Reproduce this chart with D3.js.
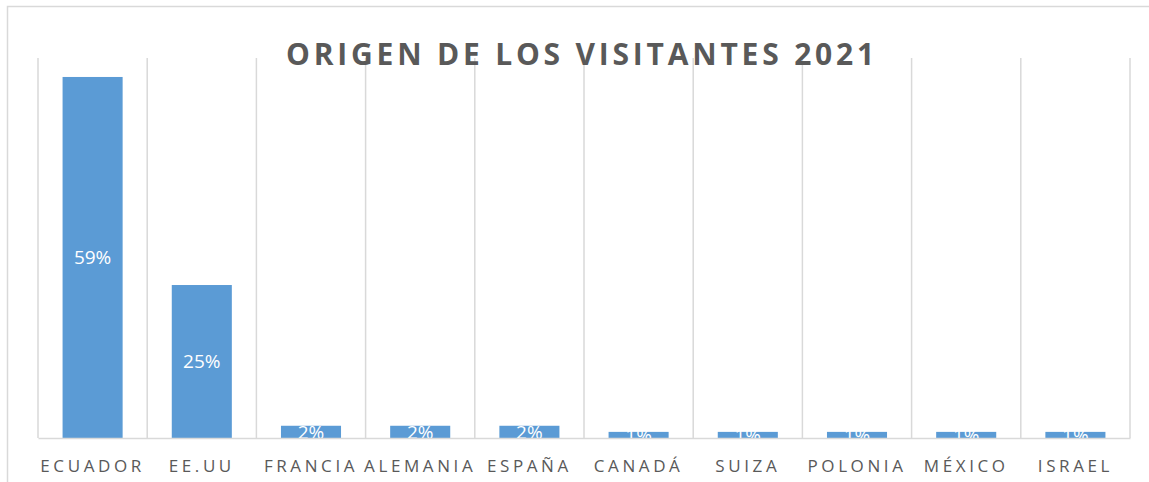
<!DOCTYPE html>
<html>
<head>
<meta charset="utf-8">
<script src="https://cdn.jsdelivr.net/npm/d3@7"></script>
<style>
  body { margin: 0; background: #fff; }
  svg { display: block; font-family: "Open Sans", "Noto Sans", sans-serif; }
</style>
</head>
<body>
<svg width="1149" height="482"></svg>
<script>
// Chart data
const countries = ["ECUADOR", "EE.UU", "FRANCIA", "ALEMANIA", "ESPAÑA", "CANADÁ", "SUIZA", "POLONIA", "MÉXICO", "ISRAEL"];
const shares = [0.59, 0.25, 0.02, 0.02, 0.02, 0.01, 0.01, 0.01, 0.01, 0.01];
const labels = ["59%", "25%", "2%", "2%", "2%", "1%", "1%", "1%", "1%", "1%"];
const title = "ORIGEN DE LOS VISITANTES 2021";

const svg = d3.select("svg");
const plot = {left: 38, right: 1130, top: 58, bottom: 438};

// chart frame
svg.append("rect")
    .attr("x", 7.5).attr("y", 6.5)
    .attr("width", 1160).attr("height", 500)
    .attr("fill", "none").attr("stroke", "#d9d9d9").attr("stroke-width", 1.5);

const x = d3.scaleBand()
    .domain(countries)
    .range([plot.left, plot.right])
    .paddingInner(0.45).paddingOuter(0.225);

const y = d3.scaleLinear()
    .domain([0, 0.621])
    .range([plot.bottom, plot.top]);

// category gridlines (between bands)
const step = x.step();
const edges = d3.range(countries.length + 1).map(i => plot.left + i * step);
svg.selectAll(".grid").data(edges).enter().append("line")
    .attr("class", "grid")
    .attr("x1", d => d).attr("x2", d => d)
    .attr("y1", plot.top).attr("y2", plot.bottom)
    .attr("stroke", "#d9d9d9").attr("stroke-width", 1.5);

// bars
svg.selectAll(".bar").data(shares).enter().append("rect")
    .attr("class", "bar")
    .attr("x", (d, i) => x(countries[i]))
    .attr("y", d => y(d))
    .attr("width", x.bandwidth())
    .attr("height", d => y(0) - y(d))
    .attr("fill", "#5b9bd5");

// data labels centred in bars
svg.selectAll(".lbl").data(shares).enter().append("text")
    .attr("class", "lbl")
    .attr("x", (d, i) => x(countries[i]) + x.bandwidth() / 2)
    .attr("y", d => (y(d) + y(0)) / 2)
    .attr("dy", "0.35em")
    .attr("text-anchor", "middle")
    .attr("fill", "#fff")
    .attr("font-size", 19)
    .text((d, i) => labels[i]);

// baseline axis
const axis = svg.append("g")
    .attr("transform", `translate(0,${plot.bottom})`)
    .call(d3.axisBottom(x).tickSize(0).tickPadding(22));
axis.select(".domain").attr("stroke", "#d9d9d9").attr("stroke-width", 1.5);
axis.selectAll("text")
    .attr("fill", "#595959")
    .attr("font-size", 17)
    .attr("letter-spacing", "3.6px")
    .style("font-family", "'Open Sans', 'Noto Sans', sans-serif");

// title
svg.append("text")
    .attr("x", 582).attr("y", 65)
    .attr("text-anchor", "middle")
    .attr("fill", "#595959")
    .attr("font-size", 30)
    .attr("font-weight", "bold")
    .attr("letter-spacing", "3.8px")
    .text(title);
</script>
</body>
</html>
